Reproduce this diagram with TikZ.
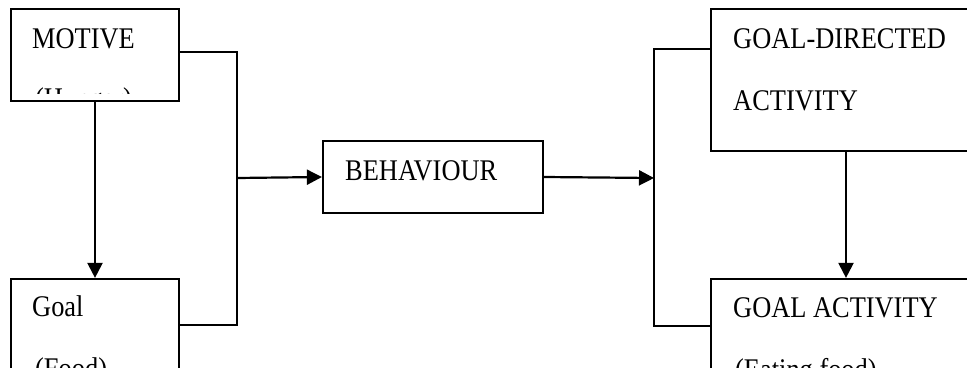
\documentclass[tikz,border=0pt]{standalone}
\usepackage{fontspec}
\setmainfont{Liberation Serif}[FakeStretch=0.88]
\usetikzlibrary{arrows.meta}
\begin{document}
\begin{tikzpicture}[x=1pt,y=-1pt,
  box/.style={draw=black, line width=2.2pt, inner sep=0pt, rectangle},
  label/.style={anchor=base west, inner sep=0pt, font=\fontsize{30}{36}\selectfont},
  link/.style={draw=black, line width=2.2pt},
  flow/.style={link, -{Triangle[length=15pt,width=15pt]}}]
  \useasboundingbox (0,0) rectangle (967,367);
  \clip (0,0) rectangle (967,367);

  % boxes
  \node[box, minimum width=168pt, minimum height=92pt]  (motive) at (95,55) {};
  \node[box, minimum width=168pt, minimum height=142pt] (goal)   at (95,350) {};
  \node[box, minimum width=220pt, minimum height=72pt]  (beh)    at (433,177) {};
  \node[box, minimum width=270pt, minimum height=142pt] (gda)    at (846,80) {};
  \node[box, minimum width=270pt, minimum height=142pt] (ga)     at (846,350) {};

  % box texts
  \node[label] (tmotive) at (32,48) {MOTIVE};
  \begin{scope}
    \clip (12,10) rectangle (178,93);
    \node[label] (thunger) at (35,108) {(Hunger)};
  \end{scope}
  \node[label] (tgoal)  at (32,316) {Goal};
  \node[label] (tfood)  at (35,378) {(Food)};
  \node[label] (tbeh)   at (345,180) {BEHAVIOUR};
  \node[label] (tgd1)   at (733,48) {GOAL-DIRECTED};
  \node[label] (tgd2)   at (733,110) {ACTIVITY};
  \node[label] (tga)    at (733,317) {GOAL ACTIVITY};
  \node[label] (teat)   at (735,379) {(Eating food)};

  % junction points
  \coordinate (ja) at (237,52);
  \coordinate (jb) at (237,325);
  \coordinate (jm) at (237,178);
  \coordinate (jc) at (654,49);
  \coordinate (jd) at (654,326);
  \coordinate (je) at (654,178);

  % left collector
  \draw[link] (motive.east |- ja) -- (ja) -- (jb) -- (goal.east |- jb);
  \draw[flow] (motive.south) -- (goal.north);
  \draw[flow] (jm) -- (beh.west);

  % right distributor
  \draw[flow] (beh.east) -- (je);
  \draw[link] (gda.west |- jc) -- (jc) -- (jd) -- (ga.west |- jd);
  \draw[flow] (gda.south) -- (ga.north);
\end{tikzpicture}
\end{document}
